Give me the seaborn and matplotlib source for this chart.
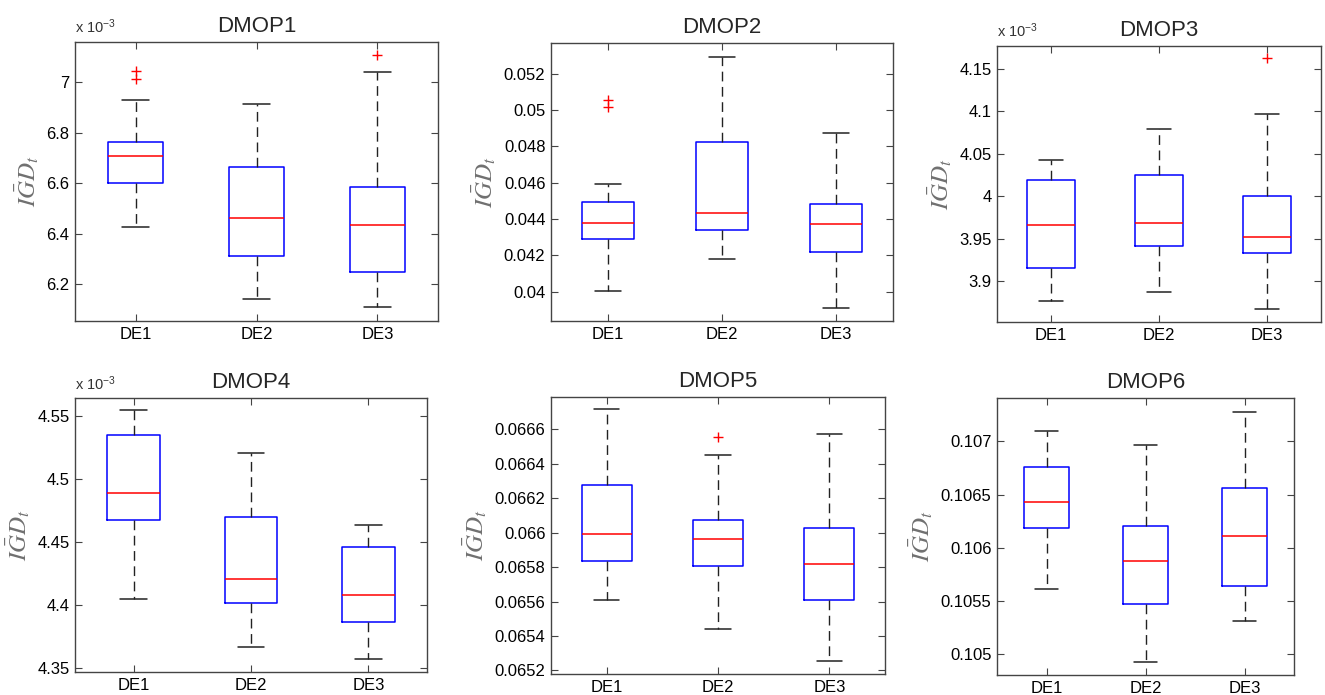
import numpy as np
import pandas as pd
import matplotlib
matplotlib.use("Agg")
import matplotlib.pyplot as plt
import seaborn as sns
from matplotlib.ticker import MultipleLocator, FuncFormatter

# -------------------------
# Data: [min, q1, median, q3, max] per algorithm
# -------------------------
algs = ["DE1", "DE2", "DE3"]
titles = ["DMOP1", "DMOP2", "DMOP3", "DMOP4", "DMOP5", "DMOP6"]

dmop1 = [[6.427e-3, 6.601e-3, 6.710e-3, 6.764e-3, 6.931e-3],
         [6.141e-3, 6.311e-3, 6.464e-3, 6.666e-3, 6.913e-3],
         [6.109e-3, 6.248e-3, 6.434e-3, 6.587e-3, 7.041e-3]]
dmop2 = [[0.04002, 0.04289, 0.04376, 0.04495, 0.04594],
         [0.04182, 0.04339, 0.04431, 0.04825, 0.05294],
         [0.03912, 0.04219, 0.04370, 0.04484, 0.04871]]
dmop3 = [[3.8760e-3, 3.9149e-3, 3.9655e-3, 4.0185e-3, 4.0421e-3],
         [3.8870e-3, 3.9412e-3, 3.9679e-3, 4.0248e-3, 4.0786e-3],
         [3.8674e-3, 3.9334e-3, 3.9518e-3, 3.9997e-3, 4.0962e-3]]
dmop4 = [[4.4044e-3, 4.4671e-3, 4.4888e-3, 4.5347e-3, 4.5545e-3],
         [4.3669e-3, 4.4014e-3, 4.4207e-3, 4.4700e-3, 4.5202e-3],
         [4.3569e-3, 4.3864e-3, 4.4080e-3, 4.4460e-3, 4.4635e-3]]
dmop5 = [[0.065609, 0.065838, 0.065993, 0.066274, 0.066716],
         [0.065441, 0.065809, 0.065964, 0.066071, 0.066451],
         [0.065254, 0.065611, 0.065819, 0.066026, 0.066571]]
dmop6 = [[0.10561, 0.10618, 0.10643, 0.10676, 0.10710],
         [0.10492, 0.10547, 0.10587, 0.10620, 0.10697],
         [0.10531, 0.10564, 0.10611, 0.10656, 0.10728]]

# outliers per algorithm
dmop1_out = [[7.044e-3, 7.014e-3], [], [7.110e-3]]
dmop2_out = [[0.05056, 0.05014], [], []]
dmop3_out = [[], [], [4.1626e-3]]
dmop4_out = [[], [], []]
dmop5_out = [[], [0.066557], []]
dmop6_out = [[], [], []]

summaries = [dmop1, dmop2, dmop3, dmop4, dmop5, dmop6]
outliers = [dmop1_out, dmop2_out, dmop3_out, dmop4_out, dmop5_out, dmop6_out]

# -------------------------
# Axes settings
# -------------------------
ylims = [(6.055e-3, 7.16e-3), (0.03838, 0.05369), (3.8517e-3, 4.1767e-3),
         (4.3468e-3, 4.5642e-3), (0.065179, 0.066788), (0.104799, 0.10741)]
ysteps = [0.2e-3, 0.002, 0.05e-3, 0.05e-3, 0.0002, 0.0005]
scaled = [True, False, True, True, False, False]

# axes boxes in pixels: left, top, right, bottom
rects = [(75, 42, 438, 321), (551, 43, 893, 321), (997, 46, 1321, 322),
         (75, 398, 427, 672), (551, 397, 885, 674), (997, 398, 1294, 675)]
W, H = 1325, 695

sns.set_theme(style="white")
plt.rcParams["font.family"] = ["Liberation Sans", "DejaVu Sans"]
plt.rcParams["mathtext.fontset"] = "stix"

fig = plt.figure(figsize=(W / 100, H / 100), dpi=100)

for i in range(6):
    l, t, r, b = rects[i]
    ax = fig.add_axes([l / W, 1 - b / H, (r - l) / W, (b - t) / H])

    df = pd.DataFrame({"alg": np.repeat(algs, 5),
                       "value": np.ravel(summaries[i])})
    sns.boxplot(data=df, x="alg", y="value", order=algs, whis=(0, 100),
                width=0.45, fill=False, showfliers=False, linewidth=1.1,
                boxprops=dict(color="blue"),
                medianprops=dict(color="red", linewidth=1.1),
                whiskerprops=dict(color="#222222", linestyle=(0, (7, 4)), linewidth=1),
                capprops=dict(color="#222222", linewidth=1.1),
                ax=ax)

    out_alg, out_val = [], []
    for a, vals in zip(algs, outliers[i]):
        out_alg += [a] * len(vals)
        out_val += vals
    if out_val:
        odf = pd.DataFrame({"alg": out_alg, "value": out_val})
        sns.stripplot(data=odf, x="alg", y="value", order=algs, jitter=False,
                      marker="+", color="red", size=7, linewidth=1, ax=ax)

    ax.set_xlim(-0.5, 2.5)
    ax.set_ylim(*ylims[i])
    ax.yaxis.set_major_locator(MultipleLocator(ysteps[i]))
    if scaled[i]:
        ax.yaxis.set_major_formatter(FuncFormatter(lambda v, p: f"{v * 1e3:g}"))
        ax.text(0, 1.02, r"x 10$^{\mathregular{-3}}$", transform=ax.transAxes,
                fontsize=10.5, ha="left", va="bottom", color="#333333")
    else:
        ax.yaxis.set_major_formatter(FuncFormatter(lambda v, p: f"{v:g}"))

    ax.tick_params(direction="in", length=5, width=0.8, bottom=True, left=True,
                   top=True, right=True, labelsize=12, color="#444444",
                   labelcolor="black", pad=4)
    for s in ax.spines.values():
        s.set_color("#444444")
        s.set_linewidth(1)

    ax.set_xlabel("")
    ax.set_ylabel(r"$I\bar{G}D_t$", fontsize=18, color="#707070")
    ax.set_title(titles[i], fontsize=16, pad=7)

plt.savefig("out.png", dpi=100)
